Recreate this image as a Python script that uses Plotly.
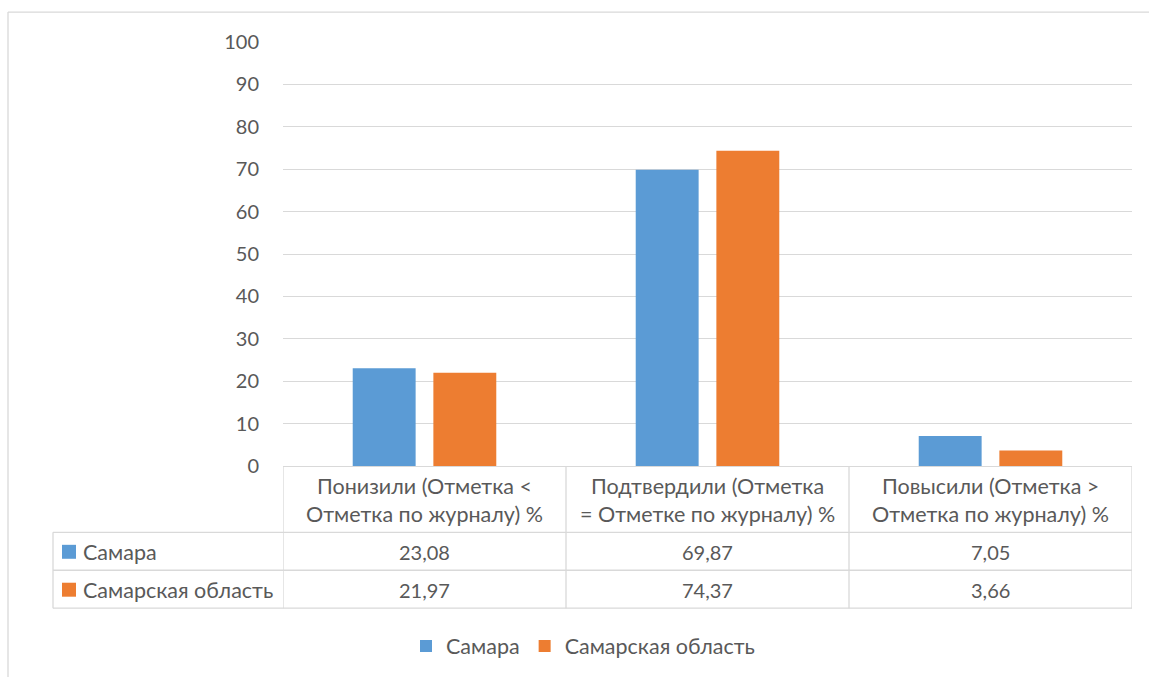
import plotly.graph_objects as go

categories = [
    "Понизили (Отметка <<br>Отметка по журналу) %",
    "Подтвердили (Отметка<br>= Отметке по журналу) %",
    "Повысили (Отметка ><br>Отметка по журналу) %",
]
series_names = ["Самара", "Самарская область"]
samara = [23.08, 69.87, 7.05]
oblast = [21.97, 74.37, 3.66]
value_labels = [["23,08", "69,87", "7,05"], ["21,97", "74,37", "3,66"]]
y_ticks = [0, 10, 20, 30, 40, 50, 60, 70, 80, 90, 100]

colors = ["#5B9BD5", "#ED7D31"]
FONT = "Lato"
TXT = "#595959"
GRID = "#D9D9D9"
TS = 21.5  # text size for words
NS = 20    # numbers

W, H = 1149, 677
L, R, T, B = 283, 17, 42, 210
PW, PH = W - L - R, H - T - B


def px(x):
    return (x - L) / PW


def py(y):
    return (H - B - y) / PH


fig = go.Figure()
for name, vals, c in zip(series_names, [samara, oblast], colors):
    fig.add_trace(go.Bar(x=list(range(len(categories))), y=vals, name=name,
                         marker=dict(color=c, line=dict(width=0))))

shapes = []
annotations = []
line = dict(color=GRID, width=1.3)
# outer chart border
shapes.append(dict(type="line", xref="paper", yref="paper", x0=px(8), x1=px(8), y0=py(12), y1=py(680), line=line))
shapes.append(dict(type="line", xref="paper", yref="paper", x0=px(8), x1=px(1152), y0=py(12), y1=py(12), line=line))
# table horizontal lines
for yy in [533.5, 571.5, 609.5]:
    shapes.append(dict(type="line", xref="paper", yref="paper", x0=px(53), x1=1, y0=py(yy), y1=py(yy), line=line))
shapes.append(dict(type="line", xref="paper", yref="paper", x0=px(53), x1=px(53), y0=py(533.5), y1=py(609.5), line=line))
# table vertical lines at category boundaries
for i in range(len(categories) + 1):
    shapes.append(dict(type="line", xref="x", yref="paper", x0=i - 0.5, x1=i - 0.5, y0=py(467), y1=py(609.5), line=line))

# header text (category names)
for i, cat in enumerate(categories):
    for j, part in enumerate(cat.split("<br>")):
        annotations.append(dict(x=i, xref="x", y=py(487 + j * 28.3), yref="paper", text=part, showarrow=False,
                                xanchor="center", yanchor="middle", font=dict(family=FONT, size=TS, color=TXT)))

# table rows
row_y = [553, 591]
for r, (name, c) in enumerate(zip(series_names, colors)):
    shapes.append(dict(type="rect", xref="paper", yref="paper", x0=px(62), x1=px(76),
                       y0=py(row_y[r] - 7), y1=py(row_y[r] + 7), fillcolor=c, line=dict(width=0)))
    annotations.append(dict(x=px(81), xref="paper", y=py(row_y[r]), yref="paper", text=name, showarrow=False,
                            xanchor="left", yanchor="middle", font=dict(family=FONT, size=TS, color=TXT)))
    for i in range(len(categories)):
        annotations.append(dict(x=i, xref="x", y=py(row_y[r]), yref="paper", text=value_labels[r][i],
                                showarrow=False, xanchor="center", yanchor="middle",
                                font=dict(family=FONT, size=NS, color=TXT)))

fig.update_layout(
    width=W, height=H,
    margin=dict(l=L, r=R, t=T, b=B, pad=0),
    paper_bgcolor="white", plot_bgcolor="white",
    barmode="group", bargap=0.43, bargroupgap=0.22,
    font=dict(family=FONT, size=NS, color=TXT),
    showlegend=True,
    legend=dict(orientation="h", x=px(406), xanchor="left", y=py(646), yanchor="middle",
                font=dict(family=FONT, size=TS, color=TXT), itemclick=False),
    shapes=shapes,
    annotations=annotations,
)
fig.update_xaxes(range=[-0.5, len(categories) - 0.5], showticklabels=False, showgrid=False,
                 showline=True, linecolor=GRID, linewidth=1.3, zeroline=False, ticks="", fixedrange=True)
fig.update_yaxes(range=[0, 100], tickvals=y_ticks, showgrid=True, gridcolor=GRID, gridwidth=1.3,
                 zeroline=False, showline=False, ticks="", ticklabelstandoff=23,
                 tickfont=dict(family=FONT, size=NS, color=TXT), fixedrange=True)

fig.write_html("out.html", config={"displayModeBar": False},
               post_script="document.body.style.margin='0px';document.body.style.overflow='hidden';")
